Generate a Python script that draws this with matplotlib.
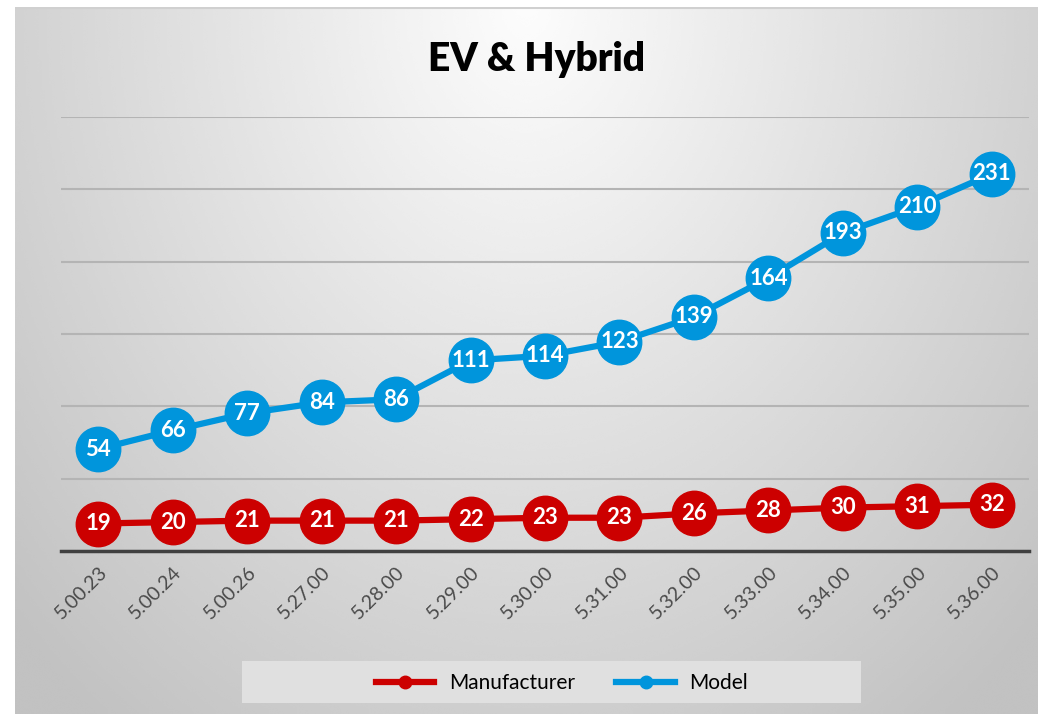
import numpy as np
import matplotlib
matplotlib.use("Agg")
import matplotlib.pyplot as plt
from matplotlib.lines import Line2D
from matplotlib.patches import Rectangle

# Chart data
periods = ["5.00.23", "5.00.24", "5.00.26", "5.27.00", "5.28.00", "5.29.00", "5.30.00",
           "5.31.00", "5.32.00", "5.33.00", "5.34.00", "5.35.00", "5.36.00"]
manufacturer = [19, 20, 21, 21, 21, 22, 23, 23, 26, 28, 30, 31, 32]
model = [54, 66, 77, 84, 86, 111, 114, 123, 139, 164, 193, 210, 231]

RED = "#cc0000"
BLUE = "#0095dc"

plt.rcParams["font.family"] = ["Lato", "DejaVu Sans"]

W, H = 1038, 714
fig = plt.figure(figsize=(W / 100, H / 100), dpi=100)
fig.patch.set_facecolor("white")

# Gradient panel behind the chart
bg = fig.add_axes([15 / W, 0, 1 - 15 / W, (H - 7) / H], zorder=-10)
yy, xx = np.mgrid[0:1:300j, 0:1:400j]
d = np.sqrt(((xx - 0.5) / 0.6) ** 2 + (yy / 1.1) ** 2)
shade = np.clip(0.99 - 0.2 * d, 0.76, 1.0)
bg.imshow(shade, cmap="gray", vmin=0, vmax=1, aspect="auto",
          extent=(0, 1, 1, 0), interpolation="bicubic")
bg.set_xlim(0, 1)
bg.set_ylim(1, 0)
bg.axis("off")
bg.axhline(0.002, color="#d0d0d0", lw=1.5)

# Main plot area
left, right = 61 / W, 1029 / W
bottom, top = (H - 551) / H, (H - 117) / H
ax = fig.add_axes([left, bottom, right - left, top - bottom])
ax.patch.set_alpha(0)
x = np.arange(len(periods))

ax.plot(x, manufacturer, color=RED, lw=4.5, marker="o", markersize=32, zorder=3)
for xi, v in zip(x, manufacturer):
    ax.text(xi, v, str(v), ha="center", va="center", color="white",
            fontsize=16, fontweight="bold", zorder=4)

# Model series on its own scale
ax2 = ax.twinx()
ax2.patch.set_alpha(0)
ax2.set_ylim(-11.6, 267.6)
ax2.axis("off")
ax2.plot(x, model, color=BLUE, lw=4.5, marker="o", markersize=32, zorder=3)
for xi, v in zip(x, model):
    ax2.text(xi, v, str(v), ha="center", va="center", color="white",
             fontsize=16, fontweight="bold", zorder=4)

ax.set_ylim(0, 300)
ax.set_yticks(np.arange(0, 301, 50))
ax.yaxis.grid(True, color="#b4b4b4", lw=1.5)
ax.set_axisbelow(True)
ax.tick_params(axis="y", left=False, right=False, labelleft=False, labelright=False)
for s in ["top", "right", "left"]:
    ax.spines[s].set_visible(False)
ax.spines["bottom"].set_color("#404040")
ax.spines["bottom"].set_linewidth(2.5)
ax.set_xlim(-0.5, len(periods) - 0.5)
ax.set_xticks(x)
ax.set_xticklabels(periods, rotation=45, ha="right", rotation_mode="anchor",
                   color="#4a4a4a", fontsize=14)
ax.tick_params(axis="x", length=0, pad=9)

fig.text(537 / W, 1 - 60 / H, "EV & Hybrid", ha="center", va="center",
         fontsize=28, fontweight="heavy", color="black")

# Legend
fig.patches.append(Rectangle((242 / W, 1 - 703 / H), (861 - 242) / W, 42 / H,
                             transform=fig.transFigure, facecolor="#e0e0e0",
                             edgecolor="none", zorder=1))
handles = [Line2D([], [], color=RED, lw=4.5, marker="o", markersize=9),
           Line2D([], [], color=BLUE, lw=4.5, marker="o", markersize=9)]
fig.legend(handles, ["Manufacturer", "Model"], loc="center",
           bbox_to_anchor=(562 / W, 1 - 683 / H), ncol=2, frameon=False,
           fontsize=15, handlelength=2.8, handletextpad=0.7, columnspacing=2.0)

fig.savefig("out.png", dpi=100)
